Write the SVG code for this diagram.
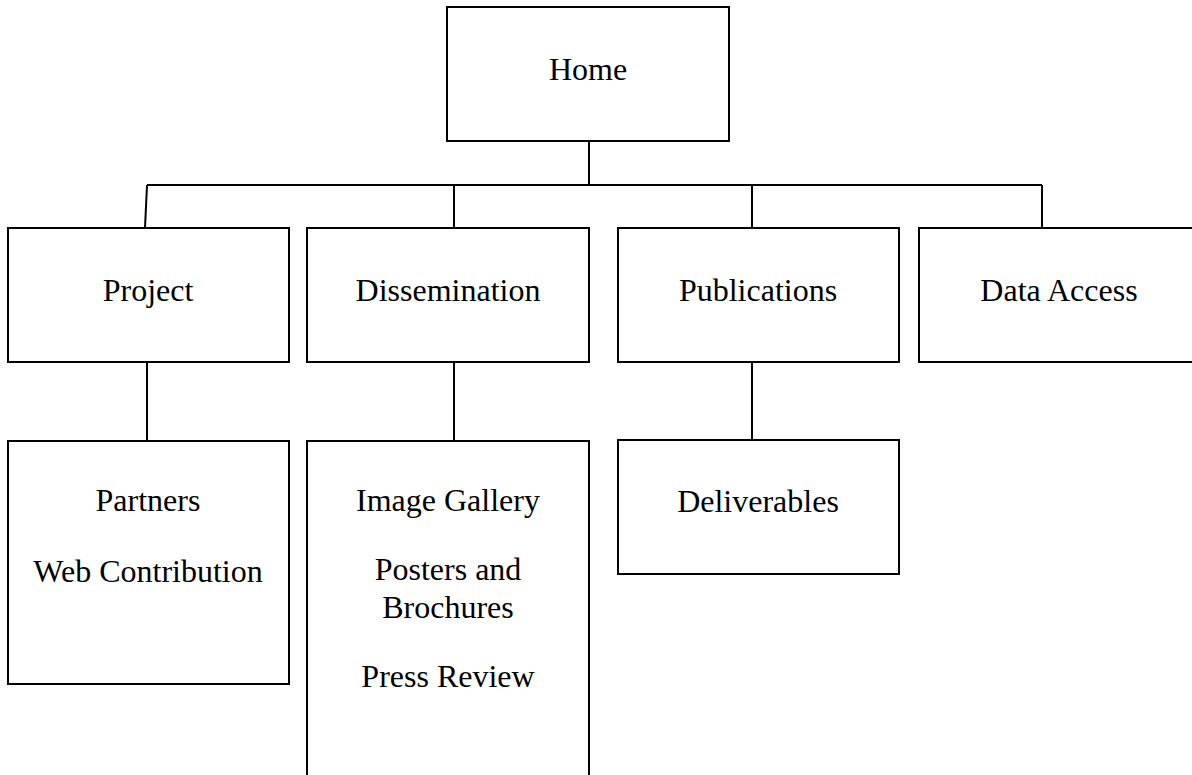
<svg xmlns="http://www.w3.org/2000/svg" width="1192" height="775" viewBox="0 0 1192 775">
<style>
.box{fill:#fff;stroke:#000;stroke-width:2}
.conn{fill:none;stroke:#000;stroke-width:2}
text{font-family:"Liberation Serif","Times New Roman",serif;font-size:32px;fill:#000;text-anchor:middle}
</style>
<rect width="1192" height="775" fill="#fff"/>
<g id="connectors">
<line class="conn" x1="589" y1="141" x2="589" y2="185"/>
<line class="conn" x1="147" y1="185" x2="1042" y2="185"/>
<line class="conn" x1="147" y1="185" x2="145" y2="228"/>
<line class="conn" x1="454" y1="185" x2="454" y2="228"/>
<line class="conn" x1="752" y1="185" x2="752" y2="228"/>
<line class="conn" x1="1042" y1="185" x2="1042" y2="228"/>
<line class="conn" x1="147" y1="362" x2="147" y2="441"/>
<line class="conn" x1="454" y1="362" x2="454" y2="441"/>
<line class="conn" x1="752" y1="362" x2="752" y2="440"/>
</g>
<g id="home">
<rect class="box" x="447" y="7" width="282" height="134"/>
<text x="588" y="80">Home</text>
</g>
<g id="project">
<rect class="box" x="8" y="228" width="281" height="134"/>
<text x="148" y="301">Project</text>
</g>
<g id="dissemination">
<rect class="box" x="307" y="228" width="282" height="134"/>
<text x="448" y="301">Dissemination</text>
</g>
<g id="publications">
<rect class="box" x="618" y="228" width="281" height="134"/>
<text x="758" y="301">Publications</text>
</g>
<g id="data-access">
<rect class="box" x="919" y="228" width="290" height="134"/>
<text x="1059" y="301">Data Access</text>
</g>
<g id="project-children">
<rect class="box" x="8" y="441" width="281" height="243"/>
<text x="148" y="511">Partners</text>
<text x="148" y="582">Web Contribution</text>
</g>
<g id="dissemination-children">
<rect class="box" x="307" y="441" width="282" height="350"/>
<text x="448" y="511">Image Gallery</text>
<text x="448" y="580">Posters and</text>
<text x="448" y="618">Brochures</text>
<text x="448" y="687">Press Review</text>
</g>
<g id="deliverables">
<rect class="box" x="618" y="440" width="281" height="134"/>
<text x="758" y="512">Deliverables</text>
</g>
</svg>
